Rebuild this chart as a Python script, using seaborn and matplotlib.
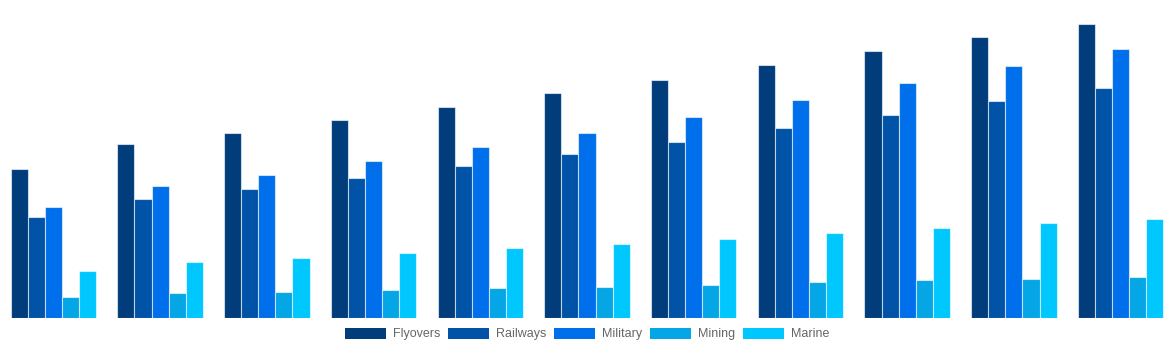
import matplotlib
matplotlib.use("Agg")
import matplotlib.pyplot as plt
import seaborn as sns
import pandas as pd
from matplotlib.patches import Patch

categories = [str(i) for i in range(1, 12)]
series = ["Flyovers", "Railways", "Military", "Mining", "Marine"]
flyovers = [149, 174, 185, 198, 211, 225, 238, 253, 267, 281, 294]
railways = [101, 119, 129, 140, 152, 164, 176, 190, 203, 217, 230]
military = [111, 132, 143, 157, 171, 185, 201, 218, 235, 252, 269]
mining = [21, 25, 26, 28, 30, 31, 33, 36, 38, 39, 41]
marine = [47, 56, 60, 65, 70, 74, 79, 85, 90, 95, 99]
colors = ["#003D7A", "#0053A6", "#006FEB", "#05A6E6", "#00C8FF"]

values = [flyovers, railways, military, mining, marine]
rows = []
for s, vals in zip(series, values):
    for c, v in zip(categories, vals):
        rows.append({"category": c, "series": s, "value": v})
df = pd.DataFrame(rows)

sns.set_style("white")
plt.rcParams["font.family"] = ["Liberation Sans", "DejaVu Sans"]

fig = plt.figure(figsize=(11.74, 3.5), dpi=100)
ax = fig.add_axes([0, 32 / 350, 1, 300 / 350])
sns.barplot(data=df, x="category", y="value", hue="series", hue_order=series,
            palette=colors, width=0.8, edgecolor=(1, 1, 1, 0.6), linewidth=0.8,
            ax=ax, legend=False, saturation=1)
ax.set_xlim(-0.5, len(categories) - 0.5)
ax.set_ylim(0, 300)
ax.axis("off")

handles = [Patch(facecolor=c, edgecolor="none", label=s) for c, s in zip(colors, series)]
fig.legend(handles=handles, loc="center", bbox_to_anchor=(0.5, 16 / 350), ncol=5,
           frameon=False, fontsize=9, labelcolor="#666666",
           handlelength=3.3, handleheight=1.0, handletextpad=0.55,
           columnspacing=0.6, borderpad=0)

fig.savefig("out.png", dpi=100)
